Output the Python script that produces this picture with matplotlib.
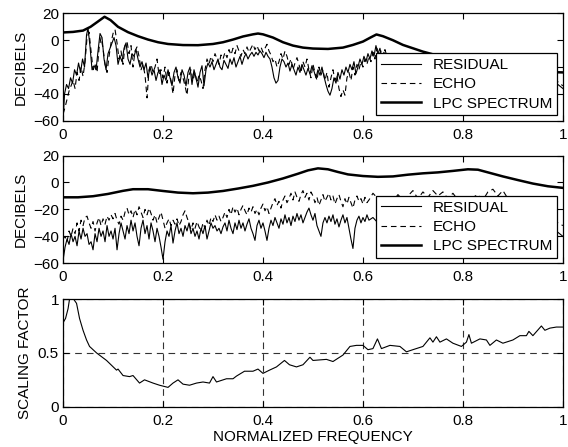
import matplotlib
matplotlib.use("Agg")
import matplotlib.pyplot as plt

plt.rcParams["font.family"] = ["Liberation Sans", "DejaVu Sans"]
plt.rcParams["font.size"] = 11

# ---- top panel: first frame ----
res1_x = [
    0.000, 0.003, 0.007, 0.011, 0.015, 0.019, 0.023, 0.027, 0.031, 0.035,
    0.039, 0.043, 0.047, 0.050, 0.054, 0.058, 0.062, 0.066, 0.070, 0.074,
    0.078, 0.082, 0.086, 0.090, 0.094, 0.098, 0.102, 0.106, 0.110, 0.114,
    0.118, 0.122, 0.126, 0.130, 0.134, 0.138, 0.142, 0.146, 0.150, 0.154,
    0.158, 0.162, 0.166, 0.170, 0.174, 0.178, 0.182, 0.186, 0.190, 0.194,
    0.198, 0.202, 0.206, 0.210, 0.214, 0.218, 0.222, 0.226, 0.230, 0.234,
    0.238, 0.242, 0.246, 0.250, 0.254, 0.258, 0.262, 0.266, 0.270, 0.274,
    0.278, 0.282, 0.286, 0.290, 0.294, 0.298, 0.302, 0.306, 0.310, 0.314,
    0.318, 0.322, 0.326, 0.330, 0.334, 0.338, 0.342, 0.346, 0.350, 0.354,
    0.358, 0.362, 0.366, 0.370, 0.374, 0.378, 0.382, 0.386, 0.390, 0.394,
    0.398, 0.402, 0.406, 0.410, 0.414, 0.418, 0.422, 0.426, 0.430, 0.434,
    0.438, 0.442, 0.446, 0.450, 0.454, 0.458, 0.462, 0.466, 0.470, 0.474,
    0.478, 0.482, 0.486, 0.490, 0.494, 0.498, 0.502, 0.506, 0.510, 0.514,
    0.518, 0.522, 0.526, 0.530, 0.534, 0.538, 0.542, 0.546, 0.550, 0.554,
    0.558, 0.562, 0.566, 0.570, 0.574, 0.578, 0.582, 0.586, 0.590, 0.594,
    0.598, 0.602, 0.606, 0.610, 0.614, 0.618, 0.622, 0.626, 0.630, 0.634,
    0.638, 0.642, 0.646, 0.650, 0.654, 0.660, 0.670, 0.680, 0.690, 0.700,
    0.710, 0.720, 0.730, 0.740, 0.750, 0.760, 0.770, 0.780, 0.790, 0.800,
    0.810, 0.820, 0.830, 0.840, 0.850, 0.860, 0.870, 0.880, 0.890, 0.900,
    0.910, 0.920, 0.930, 0.940, 0.950, 0.960, 0.970, 0.980, 0.990, 1.000,
]
res1_db = [
    -60, -40, -33, -36, -28, -32, -22, -26, -17, -24,
    -14, -20, 4, 9, -5, -22, -19, -22, -8, 5,
    2, -14, -22, -10, -6, -2, 2, -4, -18, -12,
    -16, -6, -2, -14, -18, -10, -12, -7, -14, -20,
    -16, -22, -17, -28, -20, -26, -22, -30, -24, -22,
    -33, -26, -30, -22, -28, -34, -24, -20, -28, -32,
    -22, -26, -34, -24, -20, -33, -22, -28, -35, -24,
    -19, -34, -22, -17, -20, -16, -22, -18, -14, -20,
    -22, -15, -18, -21, -14, -18, -13, -20, -16, -12,
    -18, -13, -10, -14, -11, -9, -12, -9, -11, -8,
    -10, -13, -9, -12, -14, -20, -28, -32, -30, -20,
    -14, -16, -20, -17, -23, -18, -22, -26, -20, -24,
    -18, -22, -26, -21, -25, -19, -23, -28, -22, -26,
    -20, -27, -33, -38, -41, -36, -28, -32, -24, -29,
    -22, -26, -20, -24, -18, -22, -16, -25, -20, -14,
    -18, -12, -16, -10, -14, -8, -12, -4, -10, -6,
    -13, -9, -14, -10, -15, -18, -22, -25, -28, -26,
    -30, -27, -32, -28, -33, -30, -35, -31, -36, -32,
    -30, -34, -29, -33, -36, -31, -35, -38, -33, -37,
    -34, -38, -35, -39, -36, -40, -35, -38, -33, -36,
]

echo1_x = [
    0.000, 0.004, 0.008, 0.012, 0.016, 0.020, 0.024, 0.028, 0.032, 0.036,
    0.040, 0.044, 0.048, 0.052, 0.056, 0.060, 0.064, 0.068, 0.072, 0.076,
    0.080, 0.084, 0.088, 0.092, 0.096, 0.100, 0.104, 0.108, 0.112, 0.116,
    0.120, 0.124, 0.128, 0.132, 0.136, 0.140, 0.144, 0.148, 0.152, 0.156,
    0.160, 0.164, 0.168, 0.172, 0.176, 0.180, 0.184, 0.188, 0.192, 0.196,
    0.200, 0.204, 0.208, 0.212, 0.216, 0.220, 0.224, 0.228, 0.232, 0.236,
    0.240, 0.244, 0.248, 0.252, 0.256, 0.260, 0.264, 0.268, 0.272, 0.276,
    0.280, 0.284, 0.288, 0.292, 0.296, 0.300, 0.304, 0.308, 0.312, 0.316,
    0.320, 0.324, 0.328, 0.332, 0.336, 0.340, 0.344, 0.348, 0.352, 0.356,
    0.360, 0.364, 0.368, 0.372, 0.376, 0.380, 0.384, 0.388, 0.392, 0.396,
    0.400, 0.404, 0.408, 0.412, 0.416, 0.420, 0.424, 0.428, 0.432, 0.436,
    0.440, 0.444, 0.448, 0.452, 0.456, 0.460, 0.464, 0.468, 0.472, 0.476,
    0.480, 0.484, 0.488, 0.492, 0.496, 0.500, 0.504, 0.508, 0.512, 0.516,
    0.520, 0.524, 0.528, 0.532, 0.536, 0.540, 0.544, 0.548, 0.552, 0.556,
    0.560, 0.564, 0.568, 0.572, 0.576, 0.580, 0.584, 0.588, 0.592, 0.596,
    0.600, 0.604, 0.608, 0.612, 0.616, 0.620, 0.624, 0.628, 0.632, 0.636,
    0.640, 0.644, 0.648, 0.652, 0.660, 0.670, 0.680, 0.690, 0.700, 0.710,
    0.720, 0.730, 0.740, 0.750, 0.760, 0.770, 0.780, 0.790, 0.800, 0.810,
    0.820, 0.830, 0.840, 0.850, 0.860, 0.870, 0.880, 0.890, 0.900, 0.910,
    0.920, 0.930, 0.940, 0.950, 0.960, 0.970, 0.980, 0.990, 1.000,
]
echo1_db = [
    -55, -50, -44, -38, -34, -30, -36, -24, -30, -20,
    -27, -16, 2, 6, -8, -22, -18, -24, -6, 2,
    -6, -18, -24, -12, -2, 5, 8, -2, -14, -8,
    -18, -4, -1, -10, -4, -20, -8, -5, -12, -22,
    -18, -26, -43, -22, -18, -24, -20, -14, -26, -22,
    -28, -20, -32, -24, -30, -40, -26, -22, -30, -24,
    -28, -34, -41, -26, -22, -30, -24, -32, -26, -30,
    -36, -22, -14, -18, -12, -16, -10, -14, -18, -11,
    -14, -9, -13, -7, -11, -6, -10, -4, -8, -12,
    -7, -10, -5, -9, -6, -3, -7, -4, -8, -5,
    -9, -6, -3, -8, -11, -16, -14, -20, -16, -10,
    -14, -8, -12, -18, -14, -22, -17, -13, -18, -24,
    -16, -20, -14, -22, -28, -18, -24, -30, -20, -26,
    -22, -30, -24, -35, -28, -22, -30, -26, -36, -42,
    -37, -41, -28, -24, -30, -20, -26, -18, -22, -16,
    -20, -14, -18, -12, -16, -9, -14, -6, -11, -8,
    -13, -7, -12, -16, -20, -24, -20, -26, -22, -28,
    -25, -30, -26, -31, -27, -33, -29, -34, -30, -28,
    -32, -27, -31, -34, -29, -33, -36, -31, -35, -32,
    -36, -33, -37, -34, -38, -33, -36, -31, -34,
]

lpc1_x = [
    0.00, 0.02, 0.04, 0.055, 0.07, 0.083, 0.095, 0.11, 0.13, 0.15,
    0.17, 0.19, 0.21, 0.24, 0.27, 0.30, 0.32, 0.34, 0.36, 0.38,
    0.39, 0.40, 0.42, 0.44, 0.46, 0.48, 0.50, 0.53, 0.56, 0.58,
    0.60, 0.615, 0.627, 0.64, 0.66, 0.68, 0.70, 0.72, 0.74, 0.76,
    0.80, 0.85, 0.90, 0.95, 1.00,
]
lpc1_db = [
    5.8, 6.2, 7.2, 10, 14, 17.5, 15, 10, 6, 3,
    0.5, -1.5, -2.8, -3.6, -3.7, -2.8, -1.5, 0.5, 2.8, 4.4,
    5, 4.4, 2, -1.5, -4, -5.5, -6.2, -6.5, -5.5, -3.5,
    -1, 2, 4.3, 3, 0, -3.5, -6, -8.5, -10.5, -13,
    -17, -20, -22, -23.5, -24,
]

# ---- middle panel: second frame ----
res2_x = [
    0.000, 0.004, 0.008, 0.012, 0.016, 0.020, 0.024, 0.028, 0.032, 0.036,
    0.040, 0.044, 0.048, 0.052, 0.056, 0.060, 0.064, 0.068, 0.072, 0.076,
    0.080, 0.084, 0.088, 0.092, 0.096, 0.100, 0.104, 0.108, 0.112, 0.116,
    0.120, 0.124, 0.128, 0.132, 0.136, 0.140, 0.144, 0.148, 0.152, 0.156,
    0.160, 0.164, 0.168, 0.172, 0.176, 0.180, 0.184, 0.188, 0.192, 0.196,
    0.200, 0.204, 0.208, 0.212, 0.216, 0.220, 0.224, 0.228, 0.232, 0.236,
    0.240, 0.244, 0.248, 0.252, 0.256, 0.260, 0.264, 0.268, 0.272, 0.276,
    0.280, 0.284, 0.288, 0.292, 0.296, 0.300, 0.304, 0.308, 0.312, 0.316,
    0.320, 0.324, 0.328, 0.332, 0.336, 0.340, 0.344, 0.348, 0.352, 0.356,
    0.360, 0.364, 0.368, 0.372, 0.376, 0.380, 0.384, 0.388, 0.392, 0.396,
    0.400, 0.404, 0.408, 0.412, 0.416, 0.420, 0.424, 0.428, 0.432, 0.436,
    0.440, 0.444, 0.448, 0.452, 0.456, 0.460, 0.464, 0.468, 0.472, 0.476,
    0.480, 0.484, 0.488, 0.492, 0.496, 0.500, 0.504, 0.508, 0.512, 0.516,
    0.520, 0.524, 0.528, 0.532, 0.536, 0.540, 0.544, 0.548, 0.552, 0.556,
    0.560, 0.564, 0.568, 0.572, 0.576, 0.580, 0.584, 0.588, 0.592, 0.596,
    0.600, 0.604, 0.608, 0.612, 0.620, 0.630, 0.640, 0.650, 0.660, 0.670,
    0.680, 0.690, 0.700, 0.710, 0.720, 0.730, 0.740, 0.750, 0.760, 0.770,
    0.780, 0.790, 0.800, 0.810, 0.820, 0.830, 0.840, 0.850, 0.860, 0.870,
    0.880, 0.890, 0.900, 0.910, 0.920, 0.930, 0.940, 0.950, 0.960, 0.970,
    0.980, 0.990, 1.000,
]
res2_db = [
    -58, -48, -42, -46, -38, -44, -40, -47, -36, -42,
    -34, -40, -38, -46, -44, -50, -38, -44, -34, -40,
    -36, -44, -32, -40, -36, -42, -34, -50, -38, -30,
    -36, -42, -32, -38, -28, -36, -30, -40, -47, -34,
    -28, -38, -32, -42, -30, -36, -44, -34, -40, -48,
    -57, -44, -36, -40, -32, -45, -36, -30, -38, -34,
    -40, -32, -36, -30, -38, -34, -40, -36, -42, -34,
    -38, -32, -42, -36, -30, -34, -32, -36, -34, -38,
    -33, -30, -36, -28, -34, -38, -30, -35, -28, -34,
    -30, -36, -31, -27, -34, -38, -43, -32, -28, -34,
    -30, -36, -43, -34, -28, -32, -26, -30, -34, -27,
    -31, -24, -30, -26, -32, -25, -29, -23, -28, -24,
    -30, -26, -22, -19, -24, -28, -23, -32, -36, -40,
    -30, -26, -30, -25, -29, -24, -31, -27, -33, -28,
    -24, -30, -26, -34, -42, -49, -34, -28, -25, -30,
    -26, -29, -24, -28, -26, -30, -25, -28, -24, -29,
    -23, -27, -22, -28, -24, -30, -25, -22, -27, -23,
    -29, -24, -21, -26, -23, -28, -24, -30, -26, -32,
    -28, -34, -30, -35, -31, -36, -33, -38, -34, -39,
    -35, -37, -40,
]

echo2_x = res2_x
echo2_db = [
    -42, -40, -44, -36, -40, -34, -38, -30, -36, -28,
    -32, -26, -25, -30, -34, -29, -36, -30, -26, -32,
    -27, -31, -25, -28, -24, -27, -23, -28, -31, -25,
    -28, -22, -19, -24, -21, -26, -20, -24, -18, -22,
    -26, -20, -24, -19, -23, -28, -24, -30, -26, -22,
    -28, -34, -30, -27, -32, -28, -31, -27, -32, -29,
    -24, -21, -26, -30, -35, -30, -34, -29, -33, -36,
    -30, -34, -28, -32, -26, -29, -24, -28, -25, -29,
    -26, -22, -26, -20, -24, -18, -22, -19, -24, -20,
    -17, -21, -24, -19, -22, -18, -23, -20, -24, -19,
    -16, -21, -18, -23, -19, -15, -12, -17, -14, -19,
    -13, -10, -15, -12, -8, -13, -7, -11, -14, -9,
    -6, -11, -8, -13, -7, -10, -15, -11, -17, -13,
    -9, -14, -11, -8, -13, -10, -16, -12, -9, -14,
    -18, -12, -16, -11, -15, -19, -13, -10, -14, -12,
    -16, -11, -15, -13, -8, -12, -16, -11, -14, -9,
    -13, -10, -6, -12, -7, -11, -6, -10, -7, -12,
    -8, -13, -10, -14, -11, -9, -13, -7, -5, -10,
    -6, -12, -16, -20, -18, -22, -24, -26, -28, -30,
    -27, -30, -32,
]

lpc2_x = [
    0.00, 0.03, 0.06, 0.09, 0.12, 0.14, 0.17, 0.20, 0.23, 0.26,
    0.29, 0.32, 0.35, 0.38, 0.41, 0.44, 0.47, 0.49, 0.51, 0.53,
    0.55, 0.57, 0.60, 0.63, 0.66, 0.69, 0.72, 0.75, 0.78, 0.81,
    0.83, 0.85, 0.88, 0.91, 0.94, 0.97, 1.00,
]
lpc2_db = [
    -11, -11, -10.2, -8.5, -6.2, -5, -5, -6.3, -7.5, -8,
    -7.5, -6.3, -4.5, -2.5, 0, 3, 6.5, 9, 10.5, 9.8,
    7.8, 6, 4.8, 4.2, 4.5, 5.8, 6.8, 7.5, 8.6, 9.8,
    9.5, 7.5, 4.5, 1.8, -0.8, -2.8, -4,
]

# ---- bottom panel: scaling factor ----
scale_x = [
    0.000, 0.005, 0.010, 0.013, 0.021, 0.027, 0.033, 0.040, 0.047, 0.053,
    0.067, 0.087, 0.107, 0.110, 0.120, 0.133, 0.140, 0.153, 0.163, 0.180,
    0.193, 0.210, 0.220, 0.230, 0.240, 0.253, 0.267, 0.280, 0.293, 0.300,
    0.307, 0.327, 0.340, 0.347, 0.363, 0.380, 0.390, 0.400, 0.413, 0.427,
    0.443, 0.453, 0.467, 0.480, 0.494, 0.500, 0.527, 0.540, 0.560, 0.574,
    0.587, 0.600, 0.610, 0.620, 0.629, 0.637, 0.654, 0.674, 0.687, 0.700,
    0.720, 0.734, 0.740, 0.747, 0.754, 0.767, 0.780, 0.797, 0.807, 0.812,
    0.817, 0.834, 0.847, 0.854, 0.867, 0.880, 0.900, 0.914, 0.927, 0.932,
    0.940, 0.957, 0.964, 0.974, 0.987, 1.000,
]
scale_val = [
    0.78, 0.82, 0.91, 1.00, 1.00, 0.96, 0.82, 0.71, 0.62, 0.56,
    0.50, 0.43, 0.34, 0.35, 0.29, 0.28, 0.29, 0.22, 0.25, 0.22,
    0.20, 0.18, 0.22, 0.25, 0.21, 0.20, 0.22, 0.23, 0.22, 0.28,
    0.23, 0.26, 0.26, 0.285, 0.33, 0.33, 0.35, 0.31, 0.34, 0.37,
    0.43, 0.39, 0.37, 0.39, 0.46, 0.43, 0.44, 0.42, 0.48, 0.56,
    0.57, 0.57, 0.53, 0.54, 0.63, 0.54, 0.57, 0.56, 0.51, 0.53,
    0.56, 0.64, 0.60, 0.65, 0.60, 0.63, 0.59, 0.56, 0.60, 0.67,
    0.59, 0.63, 0.62, 0.57, 0.62, 0.59, 0.62, 0.66, 0.66, 0.70,
    0.66, 0.75, 0.71, 0.73, 0.74, 0.74,
]

legend_labels = ["RESIDUAL", "ECHO", "LPC SPECTRUM"]
freq_ticks = [0, 0.2, 0.4, 0.6, 0.8, 1]
freq_labels = ["0", "0.2", "0.4", "0.6", "0.8", "1"]
db_ticks = [-60, -40, -20, 0, 20]
scale_ticks = [0, 0.5, 1]
scale_labels = ["0", "0.5", "1"]


def style_axes(ax):
    ax.set_xlim(0, 1)
    ax.set_xticks(freq_ticks)
    ax.set_xticklabels(freq_labels)
    ax.tick_params(direction="in", top=True, right=True, length=4, width=0.8)
    ax.tick_params(axis="x", pad=5)
    ax.tick_params(axis="y", pad=3)
    for sp in ax.spines.values():
        sp.set_linewidth(0.9)


def spectrum_panel(ax, rx, ry, ex, ey, lx, ly):
    ax.plot(rx, ry, color="k", lw=0.8, label=legend_labels[0])
    ax.plot(ex, ey, color="k", lw=0.8, dashes=(5, 3.5), label=legend_labels[1])
    ax.plot(lx, ly, color="k", lw=1.8, label=legend_labels[2])
    style_axes(ax)
    ax.set_ylim(-60, 20)
    ax.set_yticks(db_ticks)
    ax.set_ylabel("DECIBELS", labelpad=4)
    leg = ax.legend(loc="lower right", bbox_to_anchor=(0.988, 0.051),
                    borderaxespad=0, fancybox=False, framealpha=1,
                    edgecolor="k", handlelength=2.6, labelspacing=0.35,
                    borderpad=0.3, fontsize=11)
    leg.get_frame().set_linewidth(0.9)


fig = plt.figure(figsize=(5.68, 4.47), dpi=100)
ax1 = fig.add_axes([0.111, 0.730, 0.880, 0.240])
ax2 = fig.add_axes([0.111, 0.411, 0.880, 0.241])
ax3 = fig.add_axes([0.111, 0.090, 0.880, 0.241])

spectrum_panel(ax1, res1_x, res1_db, echo1_x, echo1_db, lpc1_x, lpc1_db)
spectrum_panel(ax2, res2_x, res2_db, echo2_x, echo2_db, lpc2_x, lpc2_db)

ax3.plot(scale_x, scale_val, color="k", lw=0.8)
style_axes(ax3)
ax3.set_ylim(0, 1)
ax3.set_yticks(scale_ticks)
ax3.set_yticklabels(scale_labels)
ax3.grid(True, color="#333333", lw=0.8, dashes=(6, 4.5))
ax3.set_ylabel("SCALING FACTOR", labelpad=4)
ax3.set_xlabel("NORMALIZED FREQUENCY", labelpad=2)

fig.savefig("out.png", dpi=100)
